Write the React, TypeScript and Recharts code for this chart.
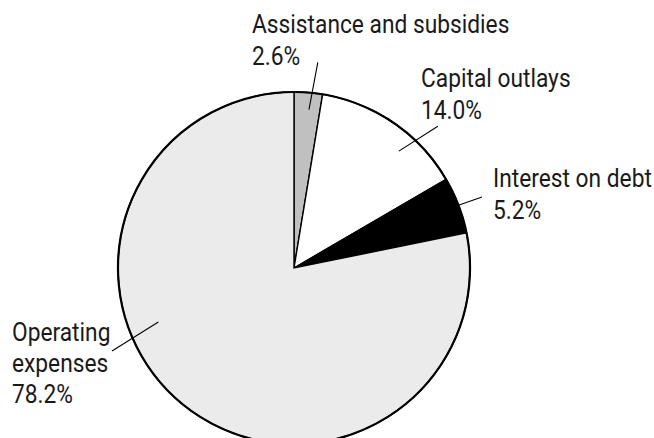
import { PieChart, Pie, Cell } from "recharts";

const categories = [
  "Assistance and subsidies",
  "Capital outlays",
  "Interest on debt",
  "Operating expenses",
];
const shares = [2.6, 14.0, 5.2, 78.2];
const labelLines = [
  ["Assistance and subsidies", "2.6%"],
  ["Capital outlays", "14.0%"],
  ["Interest on debt", "5.2%"],
  ["Operating", "expenses", "78.2%"],
];
const fills = ["#c0c0c0", "#ffffff", "#000000", "#ebebeb"];

// label text anchor (offset from pie centre) and leader line in polar coords
const textOffsets = [
  [-42, -235],
  [127, -181],
  [199, -81],
  [-282, 73],
];
const leaders = [
  { a1: 83.4, r1: 207, a2: 84.6, r2: 159 },
  { a1: 44.6, r1: 202, a2: 48.1, r2: 157 },
  { a1: 20.7, r1: 201, a2: 20.9, r2: 176 },
  { a1: 204.5, r1: 200, a2: 201.7, r2: 146 },
];

const data = categories.map((name, i) => ({ name, value: shares[i] }));
const outline = [{ name: "total", value: 100 }];

const RAD = Math.PI / 180;

const renderLabel = (props: any) => {
  const { cx, cy, index } = props;
  const l = leaders[index];
  const [dx, dy] = textOffsets[index];
  const x1 = cx + l.r1 * Math.cos(l.a1 * RAD);
  const y1 = cy - l.r1 * Math.sin(l.a1 * RAD);
  const x2 = cx + l.r2 * Math.cos(l.a2 * RAD);
  const y2 = cy - l.r2 * Math.sin(l.a2 * RAD);
  const lineHeight = index === 3 ? 31 : 32;
  return (
    <g>
      <line x1={x1} y1={y1} x2={x2} y2={y2} stroke="#000" strokeWidth={1.1} />
      <text
        transform={`translate(${cx + dx},${cy + dy}) scale(0.91,1)`}
        fill="#1a1a1a"
        fontSize={25}
        fontFamily="Roboto, sans-serif"
        textAnchor="start"
      >
        {labelLines[index].map((t, j) => (
          <tspan key={j} x={0} y={j * lineHeight}>
            {t}
          </tspan>
        ))}
      </text>
    </g>
  );
};

const App = () => {
  return (
    <div style={{ position: "absolute", left: 0, top: 0, background: "#fff" }}>
      <PieChart width={654} height={438} margin={{ top: 0, right: 0, bottom: 0, left: 0 }}>
        <Pie
          data={data}
          dataKey="value"
          nameKey="name"
          cx={294}
          cy={268}
          outerRadius={176}
          startAngle={90}
          endAngle={-270}
          stroke="#000"
          strokeWidth={1.4}
          label={renderLabel}
          labelLine={false}
          isAnimationActive={false}
        >
          {data.map((d, i) => (
            <Cell key={d.name} fill={fills[i]} />
          ))}
        </Pie>
        <Pie
          data={outline}
          dataKey="value"
          cx={294}
          cy={268}
          innerRadius={176}
          outerRadius={176}
          startAngle={90}
          endAngle={-270}
          fill="none"
          stroke="#000"
          strokeWidth={2.2}
          isAnimationActive={false}
        />
      </PieChart>
    </div>
  );
};

export default App;
